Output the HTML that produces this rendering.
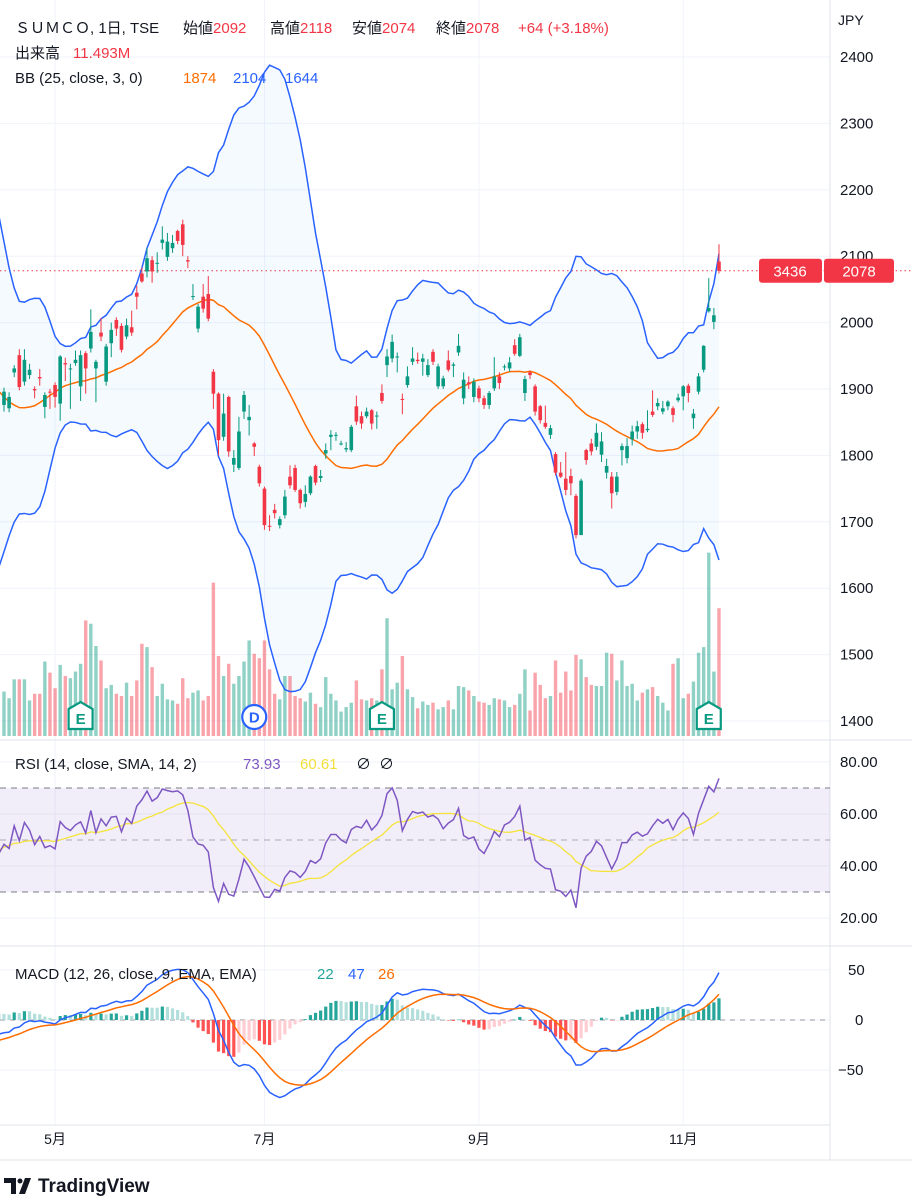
<!DOCTYPE html>
<html><head><meta charset="utf-8">
<style>
html,body{margin:0;padding:0;background:#fff;}
svg{display:block;font-family:"Liberation Sans","Noto Sans CJK JP",sans-serif;}
</style></head>
<body>
<svg id="chart" xmlns="http://www.w3.org/2000/svg" width="912" height="1200" viewBox="0 0 912 1200">
<defs><clipPath id="plotClip"><rect x="0" y="0" width="830" height="1125"/></clipPath></defs>
<rect x="0" y="0" width="912" height="1200" fill="#fff"/>
<g id="grid"></g>
<g id="plot" clip-path="url(#plotClip)"></g>
<g id="axes"></g>
<g id="legend">
 <text y="33" font-size="15" fill="#131722"><tspan x="15">ＳＵＭＣＯ, 1日, TSE</tspan><tspan x="183">始値</tspan><tspan fill="#f23645">2092</tspan><tspan x="270">高値</tspan><tspan fill="#f23645">2118</tspan><tspan x="352">安値</tspan><tspan fill="#f23645">2074</tspan><tspan x="436">終値</tspan><tspan fill="#f23645">2078</tspan><tspan x="518" fill="#f23645">+64 (+3.18%)</tspan></text>
 <text y="58" font-size="15" fill="#131722"><tspan x="15">出来高</tspan><tspan x="73" fill="#f23645">11.493M</tspan></text>
 <text y="83" font-size="15" fill="#131722"><tspan x="15">BB (25, close, 3, 0)</tspan><tspan x="183" fill="#ff6d00">1874</tspan><tspan x="233" fill="#2962ff">2104</tspan><tspan x="285" fill="#2962ff">1644</tspan></text>
 <text y="769" font-size="15" fill="#131722"><tspan x="15">RSI (14, close, SMA, 14, 2)</tspan><tspan x="243" fill="#7e57c2">73.93</tspan><tspan x="300" fill="#f2e03a">60.61</tspan><tspan x="356">∅</tspan><tspan x="379">∅</tspan></text>
 <text y="979" font-size="15" fill="#131722"><tspan x="15">MACD (12, 26, close, 9, EMA, EMA)</tspan><tspan x="317" fill="#26a69a">22</tspan><tspan x="348" fill="#2962ff">47</tspan><tspan x="378" fill="#ff6d00">26</tspan></text>
 <text x="838" y="25" font-size="14" fill="#131722">JPY</text>
</g>
<g>
 <path d="M4 1178 h12 v16 h-5 v-11 h-7 z M19 1194 l6 -16 h6 l-6 16 z" fill="#131722"/>
 <circle cx="20" cy="1181" r="2.5" fill="#131722"/>
 <text x="38" y="1192" font-size="19" font-weight="bold" fill="#131722">TradingView</text>
</g>
</svg>
<script>
const priorCloses=[1940,1950,1945,1950,1960,1955,1950,1960,1970,1980,1990,2000,2020,2030,2050,2060,2070,2090,2100,2110,2100,2080,2050,2000,1950,1900,1850,1800,1760,1750,1770,1800,1840,1870,1890,1900,1910,1920,1900,1890,1900,1910,1900,1890,1880];
const opens=[1876,1871,1925,1951,1911,1921,1900,1918,1873,1896,1906,1878,1939,1930,1939,1904,1954,1961,1931,1985,1911,1969,2004,1995,1979,1993,2045,2074,2077,2094,2090,2120,2099,2112,2138,2148,2094,2039,1991,2039,2043,1926,1893,1828,1888,1786,1781,1866,1853,1818,1783,1750,1694,1718,1695,1710,1768,1781,1748,1730,1743,1784,1766,1803,1828,1830,1817,1809,1808,1874,1859,1859,1868,1859,1894,1936,1946,1949,1885,1906,1941,1944,1941,1921,1956,1904,1904,1943,1935,1955,1886,1910,1888,1901,1886,1876,1901,1919,1933,1931,1966,1950,1894,1925,1904,1874,1849,1831,1802,1774,1765,1769,1739,1680,1808,1818,1813,1801,1774,1768,1745,1808,1796,1824,1836,1847,1838,1866,1874,1866,1874,1871,1883,1889,1905,1856,1896,1929,2017,2001,2092];
const highs=[1902,1895,1936,1960,1960,1938,1904,1930,1895,1900,1910,1951,1947,1938,1958,1958,1957,2020,1944,2007,1968,2000,2008,1999,2006,2018,2056,2083,2112,2100,2106,2145,2135,2132,2140,2155,2100,2058,2028,2058,2070,1930,1895,1893,1890,1808,1858,1897,1876,1820,1786,1753,1710,1727,1708,1748,1785,1786,1750,1755,1770,1786,1778,1818,1838,1835,1822,1820,1846,1890,1866,1872,1870,1866,1907,1960,1982,1955,1893,1934,1963,1955,1953,1945,1960,1938,1920,1958,1940,1983,1925,1919,1916,1905,1890,1897,1948,1925,1937,1948,1975,1983,1920,1928,1907,1876,1875,1846,1805,1790,1805,1780,1742,1765,1810,1825,1848,1835,1795,1775,1775,1818,1826,1845,1852,1850,1868,1898,1886,1882,1883,1874,1893,1906,1908,1870,1924,1966,2067,2022,2118];
const lows=[1866,1865,1918,1898,1905,1915,1886,1905,1856,1870,1872,1852,1912,1870,1935,1882,1893,1955,1880,1972,1905,1948,1980,1955,1975,1980,2020,2060,2068,2060,2075,2110,2093,2105,2118,2100,2082,2034,1985,2015,2002,1870,1800,1822,1798,1775,1778,1855,1830,1799,1753,1688,1686,1705,1690,1705,1750,1745,1720,1722,1740,1755,1760,1795,1808,1822,1815,1805,1805,1846,1840,1856,1839,1840,1878,1918,1940,1925,1862,1902,1936,1938,1920,1918,1936,1900,1900,1926,1918,1950,1877,1900,1880,1880,1870,1870,1897,1900,1928,1926,1950,1948,1882,1915,1860,1848,1840,1825,1770,1766,1740,1740,1675,1680,1786,1800,1808,1790,1765,1720,1740,1785,1788,1815,1825,1825,1835,1858,1868,1862,1868,1850,1880,1868,1880,1840,1892,1925,2015,1990,2074];
const closes=[1896,1888,1931,1903,1944,1929,1898,1916,1891,1895,1888,1949,1937,1931,1944,1951,1931,1986,1941,1979,1964,1989,1991,1959,1996,1985,2039,2062,2097,2077,2090,2125,2122,2120,2123,2117,2092,2040,2024,2021,2006,1893,1823,1863,1806,1796,1836,1891,1858,1813,1758,1695,1693,1713,1704,1738,1755,1748,1728,1742,1768,1759,1769,1808,1831,1831,1818,1811,1843,1851,1848,1866,1848,1860,1882,1949,1971,1949,1884,1919,1946,1942,1946,1936,1941,1934,1916,1929,1937,1965,1914,1907,1911,1886,1876,1894,1919,1909,1934,1940,1953,1978,1915,1921,1866,1853,1843,1841,1774,1768,1748,1758,1680,1762,1793,1806,1834,1821,1784,1743,1768,1814,1814,1836,1844,1834,1840,1861,1879,1871,1881,1861,1887,1904,1894,1863,1919,1965,2022,2011,2078];
const volumesM=[4.0,3.4,5.1,5.1,5.1,3.2,3.8,3.8,6.7,5.7,4.3,6.4,5.4,5.2,5.8,6.5,10.4,10.1,8.1,6.8,4.3,4.6,3.8,3.6,4.8,3.6,5.0,8.3,8.0,6.2,3.6,4.7,3.3,3.2,2.9,5.2,3.4,3.9,4.1,3.2,3.6,13.8,7.2,5.4,6.5,4.7,5.4,6.7,8.6,7.4,7.0,8.6,6.0,3.8,3.3,5.4,5.4,3.6,3.4,3.1,3.9,2.9,2.6,5.3,3.8,3.2,2.2,2.6,3.0,5.0,3.3,3.2,3.4,3.2,6.0,10.6,4.2,4.8,7.2,4.2,3.5,2.5,3.1,2.8,3.0,2.4,2.6,3.2,2.4,4.5,4.4,4.1,3.6,3.1,3.0,2.8,3.4,3.3,3.2,2.6,2.8,3.8,6.0,2.3,5.7,4.6,3.4,3.6,6.8,3.9,5.8,4.1,7.3,6.9,5.3,4.6,4.5,4.5,7.5,7.4,5.0,6.8,4.5,4.7,3.2,3.9,4.2,4.4,3.6,3.0,2.3,6.5,7.0,3.4,3.8,4.9,7.5,8.0,16.5,5.8,11.5];
const priceTicks=[2400,2300,2200,2100,2000,1900,1800,1700,1600,1500,1400];
const rsiTicks=[80,60,40,20];
const macdTicks=[50,0,-50];
const monthLabels=["5月","7月","9月","11月"];
const monthBarIndex=[10,51,93,133];
const earningsBars=[15,74,138];
const dividendBars=[49];
const lastClose=2078;
const countdownText="3436";

const NS="http://www.w3.org/2000/svg";
function mk(tag,attrs,parent){const e=document.createElementNS(NS,tag);for(const k in attrs)e.setAttribute(k,attrs[k]);parent.appendChild(e);return e;}
const X0=4,STEP=5.107;
const xOf=i=>X0+i*STEP;
const yP=p=>57+(2400-p)*0.664;
const yR=r=>762+(80-r)*2.6;
const yM=m=>1020-m*1.0;
const VOL_BASE=736, VOL_K=1/0.09;
const GREEN="#089981",RED="#f23645";
const plot=document.getElementById('plot'),grid=document.getElementById('grid'),axes=document.getElementById('axes');

priceTicks.forEach(p=>{const l=mk('line',{x1:0,x2:830,y1:yP(p),y2:yP(p),stroke:'#f0f3fa','stroke-width':1},grid);


const t=mk('text',{x:840,y:yP(p)+5,'font-size':15,fill:'#131722'},axes);t.textContent=p;

});
rsiTicks.forEach(r=>{const l=mk('line',{x1:0,x2:830,y1:yR(r),y2:yR(r),stroke:'#f0f3fa'},grid);


const t=mk('text',{x:840,y:yR(r)+5,'font-size':15,fill:'#131722'},axes);t.textContent=r.toFixed(2);

});
macdTicks.forEach(m=>{const l=mk('line',{x1:0,x2:830,y1:yM(m),y2:yM(m),stroke:'#f0f3fa'},grid);


const t=mk('text',{x:m<0?838:(m===0?855:848),y:yM(m)+5,'font-size':15,fill:'#131722'},axes);t.textContent=m<0?'−'+Math.abs(m):m;

});
monthBarIndex.forEach((b,k)=>{const x=xOf(b);const l=mk('line',{x1:x,x2:x,y1:0,y2:1125,stroke:'#f0f3fa'},grid);


const t=mk('text',{x:x,y:1144,'font-size':14,fill:'#131722','text-anchor':'middle'},axes);t.textContent=monthLabels[k];

});
[[0,740,912,740],[0,946,912,946],[0,1125,830,1125],[830,0,830,1160],[0,1160,912,1160]].forEach(s=>{const l=mk('line',{x1:s[0],y1:s[1],x2:s[2],y2:s[3],stroke:'#e0e3eb'},grid);

});

const all=priorCloses.concat(closes);const P=priorCloses.length;
const idx=k=>k-P;
const mid=[],up=[],lo=[];
for(let k=24;k<all.length;k++){let s=0;for(let j=k-24;j<=k;j++)s+=all[j];const m=s/25;let v=0;for(let j=k-24;j<=k;j++)v+=(all[j]-m)**2;const sd=Math.sqrt(v/25);mid.push([k,m]);up.push([k,m+3*sd]);lo.push([k,m-3*sd]);}
const pts=(arr,yf)=>arr.map(a=>xOf(idx(a[0])).toFixed(2)+','+yf(a[1]).toFixed(2)).join(' ');
const fill=mk('polygon',{points:pts(up,yP)+' '+pts(lo.slice().reverse(),yP),fill:'rgba(33,150,243,0.05)'},plot);



closes.forEach((c,i)=>{const h=volumesM[i]*VOL_K;const r=mk('rect',{x:xOf(i)-1.7,y:VOL_BASE-h,width:3.4,height:h,fill:c<opens[i]?'rgba(242,54,69,0.45)':'rgba(8,153,129,0.45)'},plot);

});

const bu=mk('polyline',{points:pts(up,yP),fill:'none',stroke:'#2962ff','stroke-width':1.5},plot);


const bl=mk('polyline',{points:pts(lo,yP),fill:'none',stroke:'#2962ff','stroke-width':1.5},plot);


const bm=mk('polyline',{points:pts(mid,yP),fill:'none',stroke:'#ff6d00','stroke-width':1.5},plot);



closes.forEach((c,i)=>{const o=opens[i];const col=c<o?RED:GREEN;const x=xOf(i);
const w=mk('line',{x1:x,x2:x,y1:yP(highs[i]),y2:yP(lows[i]),stroke:col,'stroke-width':1},plot);


const top=yP(Math.max(o,c)),bh=Math.max(1,Math.abs(yP(o)-yP(c)));
const b=mk('rect',{x:x-1.8,y:top,width:3.6,height:bh,fill:col},plot);

});

const lp=mk('line',{x1:0,x2:912,y1:yP(lastClose),y2:yP(lastClose),stroke:RED,'stroke-width':1,'stroke-dasharray':'1.5,3'},grid);


const tag1=mk('rect',{x:759,y:yP(lastClose)-12,width:63,height:24,rx:3,fill:RED},axes);


const tt1=mk('text',{x:790,y:yP(lastClose)+5.5,'font-size':15,fill:'#fff','text-anchor':'middle'},axes);tt1.textContent=countdownText;


const tag2=mk('rect',{x:824,y:yP(lastClose)-12,width:70,height:24,rx:3,fill:RED},axes);


const tt2=mk('text',{x:859,y:yP(lastClose)+5.5,'font-size':15,fill:'#fff','text-anchor':'middle'},axes);tt2.textContent=lastClose;



earningsBars.forEach(b=>{const x=xOf(b);const g=mk('g',{},plot);


mk('path',{d:`M${x-12} ${709} L${x} ${702} L${x+12} ${709} L${x+12} ${729} L${x-12} ${729} Z`,fill:'#fff',stroke:'#089981','stroke-width':2.2},g);
const t=mk('text',{x:x,y:724,'font-size':15,'font-weight':'bold',fill:'#089981','text-anchor':'middle'},g);t.textContent='E';});
dividendBars.forEach(b=>{const x=xOf(b);const g=mk('g',{},plot);


mk('circle',{cx:x,cy:717,r:12,fill:'#fff',stroke:'#2962ff','stroke-width':2.2},g);
const t=mk('text',{x:x,y:722.5,'font-size':15,'font-weight':'bold',fill:'#2962ff','text-anchor':'middle'},g);t.textContent='D';});

const band=mk('rect',{x:0,y:yR(70),width:830,height:yR(30)-yR(70),fill:'rgba(126,87,194,0.1)'},plot);


[70,50,30].forEach(v=>{const l=mk('line',{x1:0,x2:830,y1:yR(v),y2:yR(v),stroke:'#787b86','stroke-width':1,'stroke-dasharray':'6,5','stroke-opacity':v===50?0.6:1},plot);

});
const rsi=[];let ag=0,al=0;
for(let k=1;k<all.length;k++){const d=all[k]-all[k-1];const g=Math.max(d,0),l=Math.max(-d,0);
if(k<=14){ag+=g/14;al+=l/14;if(k===14)rsi.push([k,100-100/(1+ag/al)]);}
else{ag=(ag*13+g)/14;al=(al*13+l)/14;rsi.push([k,al===0?100:100-100/(1+ag/al)]);}}
const rsiSig=[];for(let j=13;j<rsi.length;j++){let s=0;for(let q=j-13;q<=j;q++)s+=rsi[q][1];rsiSig.push([rsi[j][0],s/14]);}
const rs=mk('polyline',{points:pts(rsiSig,yR),fill:'none',stroke:'#f5e33b','stroke-width':1.3},plot);


const rl=mk('polyline',{points:pts(rsi,yR),fill:'none',stroke:'#7e57c2','stroke-width':1.5},plot);



const z=mk('line',{x1:0,x2:830,y1:yM(0),y2:yM(0),stroke:'#9598a1','stroke-dasharray':'5,5'},plot);


let e12=all[0],e26=all[0],sig=null;const macd=[],sg=[],hist=[];
for(let k=0;k<all.length;k++){e12=all[k]*2/13+e12*11/13;e26=all[k]*2/27+e26*25/27;const m=e12-e26;sig=sig===null?m:m*0.2+sig*0.8;macd.push([k,m]);sg.push([k,sig]);hist.push([k,m-sig]);}
hist.forEach((h,j)=>{const v=h[1];const prev=j>0?hist[j-1][1]:0;let col;
if(v>=0)col=v>=prev?'#26a69a':'#b2dfdb';else col=v<prev?'#ff5252':'#ffcdd2';
const y1=Math.min(yM(v),yM(0)),hh=Math.max(0.5,Math.abs(yM(v)-yM(0)));
const r=mk('rect',{x:xOf(idx(h[0]))-1.6,y:y1,width:3.2,height:hh,fill:col},plot);

});
const ml=mk('polyline',{points:pts(macd,yM),fill:'none',stroke:'#2962ff','stroke-width':1.5},plot);


const sl=mk('polyline',{points:pts(sg,yM),fill:'none',stroke:'#ff6d00','stroke-width':1.5},plot);


</script>
</body></html>
